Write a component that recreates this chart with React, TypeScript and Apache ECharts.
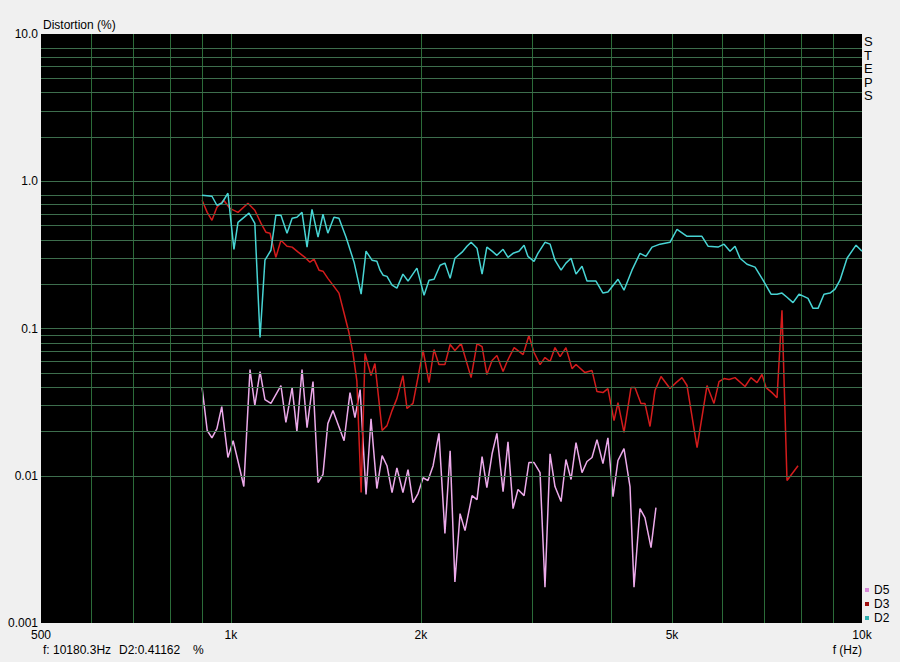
import React, { useEffect, useRef } from "react";
import * as echarts from "echarts";

const d2: [number, number][] = [
  [900,0.803],[933,0.791],[950,0.687],[967,0.709],[989,0.829],[1011,0.345],[1026,0.526],[1068,0.607],[1091,0.518],[1112,0.0868],[1132,0.291],[1157,0.340],[1178,0.588],[1200,0.588],[1227,0.444],[1250,0.561],[1272,0.570],[1296,0.615],[1320,0.357],[1344,0.645],[1374,0.417],[1399,0.597],[1424,0.444],[1456,0.570],[1483,0.561],[1522,0.417],[1567,0.282],[1608,0.171],[1637,0.335],[1673,0.291],[1703,0.286],[1723,0.249],[1742,0.230],[1767,0.226],[1800,0.197],[1832,0.188],[1873,0.234],[1908,0.210],[1971,0.257],[2023,0.168],[2060,0.213],[2098,0.216],[2145,0.269],[2183,0.278],[2225,0.219],[2264,0.300],[2324,0.330],[2366,0.362],[2402,0.385],[2454,0.351],[2500,0.234],[2544,0.357],[2593,0.335],[2639,0.314],[2699,0.345],[2748,0.304],[2799,0.324],[2860,0.335],[2914,0.368],[2955,0.309],[3022,0.286],[3065,0.324],[3145,0.385],[3204,0.374],[3262,0.291],[3335,0.249],[3395,0.278],[3459,0.300],[3522,0.234],[3600,0.265],[3666,0.210],[3788,0.210],[3886,0.174],[3957,0.177],[4105,0.216],[4196,0.182],[4320,0.249],[4448,0.324],[4546,0.309],[4648,0.357],[4785,0.374],[4963,0.385],[5092,0.472],[5281,0.423],[5576,0.423],[5702,0.362],[5913,0.357],[6044,0.374],[6178,0.335],[6292,0.362],[6407,0.300],[6574,0.273],[6769,0.261],[6969,0.213],[7175,0.171],[7334,0.171],[7468,0.174],[7606,0.163],[7775,0.150],[7947,0.171],[8212,0.160],[8363,0.137],[8518,0.137],[8705,0.171],[8898,0.174],[9063,0.185],[9228,0.213],[9469,0.300],[9785,0.368],[10000,0.335]
];

const d3: [number, number][] = [
  [900,0.743],[917,0.615],[933,0.543],[950,0.666],[974,0.743],[996,0.655],[1026,0.615],[1064,0.709],[1091,0.635],[1116,0.518],[1136,0.451],[1153,0.444],[1178,0.304],[1200,0.397],[1227,0.362],[1250,0.357],[1278,0.330],[1310,0.304],[1334,0.282],[1354,0.296],[1379,0.249],[1399,0.245],[1424,0.219],[1451,0.197],[1483,0.174],[1511,0.127],[1538,0.0939],[1561,0.0677],[1583,0.0443],[1608,0.00769],[1631,0.0677],[1667,0.0479],[1691,0.0578],[1736,0.0203],[1767,0.0219],[1800,0.0277],[1832,0.0334],[1873,0.0479],[1901,0.0286],[1943,0.0310],[2016,0.0709],[2060,0.0429],[2098,0.0720],[2136,0.0569],[2183,0.0569],[2225,0.0778],[2264,0.0709],[2316,0.0790],[2402,0.0464],[2454,0.0790],[2500,0.0754],[2544,0.0487],[2593,0.0606],[2639,0.0655],[2699,0.0510],[2739,0.0597],[2810,0.0742],[2904,0.0665],[2966,0.0896],[3022,0.0687],[3089,0.0569],[3145,0.0635],[3204,0.0597],[3262,0.0742],[3323,0.0645],[3395,0.0742],[3471,0.0534],[3522,0.0569],[3639,0.0502],[3734,0.0518],[3802,0.0373],[3886,0.0367],[3957,0.0391],[4046,0.0237],[4105,0.0314],[4196,0.0197],[4305,0.0397],[4367,0.0397],[4464,0.0310],[4529,0.0310],[4614,0.0216],[4698,0.0379],[4803,0.0472],[4963,0.0391],[5074,0.0429],[5185,0.0464],[5281,0.0410],[5478,0.0155],[5681,0.0410],[5827,0.0310],[5935,0.0436],[6044,0.0457],[6156,0.0450],[6292,0.0464],[6526,0.0404],[6669,0.0464],[6818,0.0429],[6943,0.0487],[7046,0.0397],[7201,0.0367],[7334,0.0339],[7468,0.133],[7606,0.00928],[7918,0.0117]
];

const d5: [number, number][] = [
  [900,0.0397],[917,0.0203],[933,0.0181],[950,0.0209],[967,0.0295],[989,0.0133],[1008,0.0173],[1030,0.0117],[1048,0.00845],[1072,0.0526],[1091,0.0300],[1112,0.0510],[1132,0.0329],[1157,0.0310],[1200,0.0410],[1222,0.0230],[1250,0.0397],[1272,0.0200],[1296,0.0526],[1320,0.0212],[1349,0.0436],[1374,0.00899],[1399,0.0102],[1424,0.0226],[1451,0.0277],[1511,0.0173],[1544,0.0367],[1572,0.0248],[1602,0.0385],[1637,0.00745],[1667,0.0244],[1703,0.00819],[1736,0.0137],[1767,0.0117],[1800,0.00769],[1832,0.0113],[1873,0.00769],[1908,0.0110],[1943,0.00657],[1979,0.00757],[2016,0.00969],[2052,0.00928],[2091,0.0117],[2136,0.0194],[2183,0.00405],[2225,0.0148],[2264,0.00190],[2307,0.00553],[2349,0.00424],[2410,0.00733],[2454,0.00689],[2500,0.0135],[2544,0.00832],[2593,0.0141],[2639,0.0194],[2699,0.00781],[2748,0.0170],[2799,0.00598],[2850,0.00806],[2914,0.00733],[2966,0.0123],[3022,0.0123],[3089,0.0105],[3145,0.00175],[3204,0.0141],[3262,0.00845],[3335,0.00668],[3395,0.0129],[3459,0.00943],[3522,0.0168],[3600,0.0105],[3666,0.0125],[3734,0.0133],[3802,0.0176],[3886,0.0121],[3957,0.0181],[4031,0.00722],[4105,0.0127],[4196,0.0153],[4289,0.00845],[4352,0.00175],[4448,0.00598],[4529,0.00520],[4631,0.00325],[4715,0.00608]
];

const xTickValues = [500, 1000, 2000, 5000, 10000];
const xTickLabels = ["500", "1k", "2k", "5k", "10k"];
const yTickLabels = ["0.001", "0.01", "0.1", "1.0", "10.0"];
const xGridValues = [600, 700, 800, 900, 1000, 2000, 3000, 4000, 5000, 6000, 7000, 8000, 9000];
const yGridValues = [
  0.002, 0.003, 0.004, 0.005, 0.006, 0.007, 0.008, 0.009, 0.01,
  0.02, 0.03, 0.04, 0.05, 0.06, 0.07, 0.08, 0.09, 0.1,
  0.2, 0.3, 0.4, 0.5, 0.6, 0.7, 0.8, 1,
  2, 3, 4, 5, 6, 7, 8,
];

const FONT = '"Liberation Sans", Arial, sans-serif';

export default function App() {
  const ref = useRef<HTMLDivElement>(null);
  useEffect(() => {
    if (!ref.current) return;
    const chart = echarts.init(ref.current, undefined, { renderer: "svg" });
    chart.setOption({
      animation: false,
      backgroundColor: "#f0f0f0",
      textStyle: { fontFamily: FONT },
      grid: {
        left: 41, top: 34, right: 38, bottom: 39,
        show: true, backgroundColor: "#000000", borderWidth: 0,
      },
      legend: {
        orient: "vertical",
        left: 865, top: 584,
        padding: 0,
        itemWidth: 4, itemHeight: 4, itemGap: 2,
        icon: "rect",
        textStyle: { fontSize: 12, color: "#000", fontFamily: FONT },
        data: ["D5", "D3", "D2"],
      },
      xAxis: {
        type: "log", logBase: 10, min: 500, max: 10000,
        axisLine: { show: false },
        axisTick: { show: false },
        splitLine: { show: false },
        axisLabel: {
          customValues: xTickValues,
          color: "#000", fontSize: 12, margin: 6, fontFamily: FONT,
          formatter: (v: number) => {
            const i = xTickValues.findIndex((t) => Math.abs(t - v) / t < 0.01);
            return i >= 0 ? xTickLabels[i] : "";
          },
        },
      },
      yAxis: {
        type: "log", logBase: 10, min: 0.001, max: 10,
        axisLine: { show: false },
        axisTick: { show: false },
        splitLine: { show: false },
        axisLabel: {
          color: "#000", fontSize: 12, margin: 3, fontFamily: FONT,
          formatter: (v: number) => {
            const i = Math.round(Math.log10(v)) + 3;
            return yTickLabels[i] ?? "";
          },
        },
      },
      graphic: [
        { type: "text", left: 43, top: 19, style: { text: "Distortion (%)", font: `12px ${FONT}`, fill: "#000" } },
        { type: "text", left: 864, top: 35, style: { text: "S\nT\nE\nP\nS", font: `13px ${FONT}`, lineHeight: 13.5, fill: "#000" } },
        { type: "text", left: 43, top: 644, style: { text: "f: 10180.3Hz", font: `12px ${FONT}`, fill: "#000" } },
        { type: "text", left: 119, top: 644, style: { text: "D2:0.41162", font: `12px ${FONT}`, fill: "#000" } },
        { type: "text", left: 193, top: 644, style: { text: "%", font: `12px ${FONT}`, fill: "#000" } },
        { type: "text", right: 38, top: 644, style: { text: "f (Hz)", font: `12px ${FONT}`, fill: "#000" } },
      ],
      series: [
        {
          name: "grid",
          type: "line",
          data: [],
          z: 1,
          silent: true,
          markLine: {
            silent: true,
            symbol: ["none", "none"],
            label: { show: false },
            animation: false,
            data: [
              ...xGridValues.map((v) => ({ xAxis: v, lineStyle: { color: "#2b6b39", width: 1, type: "solid" } })),
              ...yGridValues.map((v) => ({ yAxis: v, lineStyle: { color: "#3d6e4d", width: 1, type: "solid" } })),
            ],
          },
        },
        {
          name: "D5", type: "line", data: d5, showSymbol: false, z: 3,
          lineStyle: { color: "#ecaaea", width: 1.5 }, itemStyle: { color: "#d88ad8" },
        },
        {
          name: "D3", type: "line", data: d3, showSymbol: false, z: 4,
          lineStyle: { color: "#d41c1c", width: 1.5 }, itemStyle: { color: "#a01010" },
        },
        {
          name: "D2", type: "line", data: d2, showSymbol: false, z: 5,
          lineStyle: { color: "#48d4d4", width: 1.5 }, itemStyle: { color: "#30b0b0" },
        },
      ],
    });
    return () => chart.dispose();
  }, []);
  return (
    <div
      ref={ref}
      style={{ position: "absolute", left: 0, top: 0, width: 900, height: 662 }}
    />
  );
}
